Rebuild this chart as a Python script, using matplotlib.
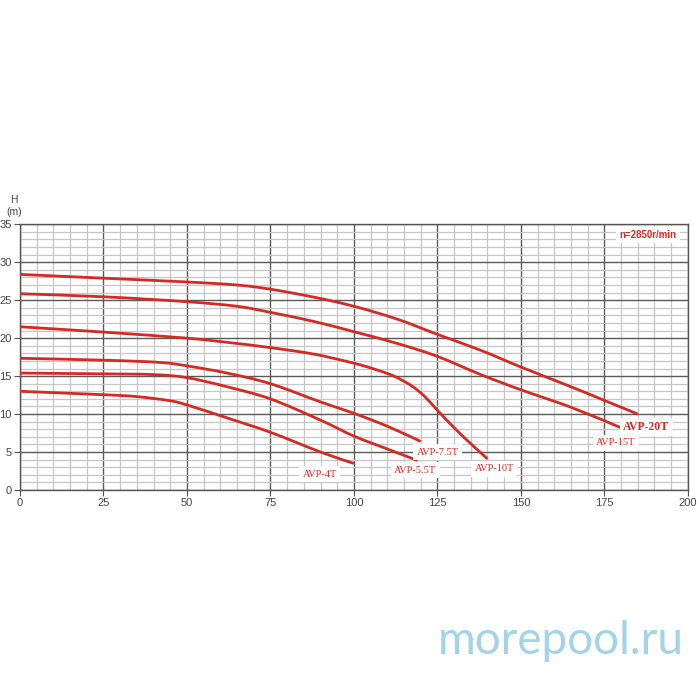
import matplotlib
matplotlib.use("Agg")
import matplotlib.pyplot as plt
from matplotlib.ticker import MultipleLocator
from matplotlib.path import Path
from matplotlib.patches import PathPatch

# Q (m3/h) / H (m) points
q_20t = [0, 25, 50, 65, 75, 88, 100, 113, 125, 138, 150, 165, 175, 185]
h_20t = [28.4, 27.9, 27.4, 27.0, 26.45, 25.4, 24.2, 22.5, 20.5, 18.4, 16.2, 13.6, 11.8, 10.0]

q_15t = [0, 25, 50, 65, 75, 88, 100, 113, 125, 138, 150, 165, 180]
h_15t = [25.85, 25.45, 24.8, 24.2, 23.4, 22.2, 20.85, 19.3, 17.6, 15.2, 13.2, 10.9, 8.2]

q_10t = [0, 25, 50, 63, 75, 88, 100, 107, 112, 117, 121, 125, 130, 135, 140]
h_10t = [21.5, 20.8, 20.0, 19.4, 18.75, 17.9, 16.7, 15.8, 15.0, 13.8, 12.4, 10.5, 8.2, 6.1, 4.1]

q_75t = [0, 25, 42, 50, 62, 75, 90, 100, 110, 120]
h_75t = [17.35, 17.1, 16.8, 16.35, 15.4, 14.0, 11.6, 10.1, 8.4, 6.4]

q_55t = [0, 25, 40, 50, 62, 75, 90, 100, 110, 119]
h_55t = [15.4, 15.3, 15.2, 14.8, 13.6, 12.0, 9.2, 7.1, 5.4, 3.9]

q_4t = [0, 25, 35, 45, 50, 62, 75, 90, 100]
h_4t = [13.0, 12.55, 12.3, 11.75, 11.2, 9.5, 7.6, 5.0, 3.5]

curves = [(q_20t, h_20t), (q_15t, h_15t), (q_10t, h_10t),
          (q_75t, h_75t), (q_55t, h_55t), (q_4t, h_4t)]

# name labels: (text, x, y, bold)
labels = [("AVP-20T", 187.5, 8.3, True), ("AVP-15T", 178.5, 6.2, False),
          ("AVP-10T", 142, 2.8, False), ("AVP-7.5T", 125, 5.0, False),
          ("AVP-5.5T", 118.3, 2.6, False), ("AVP-4T", 89.8, 2.1, False)]

red = "#d42a24"


def smooth_path(xs, ys):
    # catmull-rom through the read points, as cubic bezier segments
    pts = list(zip(xs, ys))
    verts = [pts[0]]
    codes = [Path.MOVETO]
    n = len(pts)
    for i in range(n - 1):
        p0 = pts[i - 1] if i > 0 else pts[i]
        p1 = pts[i]
        p2 = pts[i + 1]
        p3 = pts[i + 2] if i + 2 < n else pts[i + 1]
        c1 = (p1[0] + (p2[0] - p0[0]) / 6, p1[1] + (p2[1] - p0[1]) / 6)
        c2 = (p2[0] - (p3[0] - p1[0]) / 6, p2[1] - (p3[1] - p1[1]) / 6)
        verts += [c1, c2, p2]
        codes += [Path.CURVE4] * 3
    return Path(verts, codes)


fig = plt.figure(figsize=(7, 7), dpi=100)
ax = fig.add_axes([0.0286, 0.30, 0.954, 0.3796])

for q, h in curves:
    ax.add_patch(PathPatch(smooth_path(q, h), facecolor="none",
                           edgecolor=red, lw=2.0, capstyle="butt", zorder=3))

ax.set_xlim(0, 200)
ax.set_ylim(0, 35)
ax.xaxis.set_major_locator(MultipleLocator(25))
ax.yaxis.set_major_locator(MultipleLocator(5))
ax.xaxis.set_minor_locator(MultipleLocator(5))
ax.yaxis.set_minor_locator(MultipleLocator(1))
ax.grid(which="minor", color="#c6c6c6", lw=0.9)
ax.grid(which="major", color="#5a5a5a", lw=1.0)
ax.set_axisbelow(True)
for s in ax.spines.values():
    s.set_color("#555555")
    s.set_linewidth(1.0)
ax.tick_params(which="major", length=4, color="#555555", labelsize=8,
               labelcolor="#444444", pad=2)
ax.tick_params(which="minor", length=0)
for t in ax.get_xticklabels() + ax.get_yticklabels():
    t.set_family("Liberation Sans")

for txt, x, y, b in labels:
    ax.text(x, y, txt, color=red, ha="center", va="center",
            family="Liberation Serif", fontsize=8.5 if b else 7.5,
            fontweight="bold" if b else "normal", zorder=4,
            bbox=dict(facecolor="white", edgecolor="none", pad=2.5))

ax.text(188, 33.6, "n=2850r/min", color=red, ha="center", va="center",
        family="Liberation Sans", fontsize=7, fontweight="bold", zorder=4,
        bbox=dict(facecolor="white", edgecolor="none", pad=2.5))

fig.text(14 / 700, 1 - 200 / 700, "H", ha="center", va="center",
         family="Liberation Sans", fontsize=7.5, color="#444444")
fig.text(14 / 700, 1 - 212 / 700, "(m)", ha="center", va="center",
         family="Liberation Sans", fontsize=7.5, color="#444444")

fig.text(561 / 700, 1 - 641 / 700, "morepool.ru", ha="center", va="center",
         family="Lato", fontweight="normal", fontsize=33, color="#a3d3e6")

fig.savefig("out.png", dpi=100, facecolor="white")
